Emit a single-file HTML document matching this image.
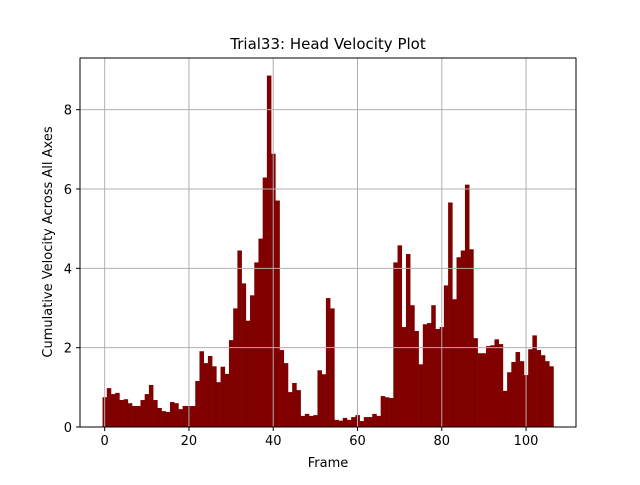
<!DOCTYPE html>
<html><head><meta charset="utf-8"><style>
html,body{margin:0;padding:0;background:#fff;}
svg text{font-family:"DejaVu Sans","Liberation Sans",sans-serif;fill:#000;}
</style></head><body>
<svg id="chart" width="640" height="480" viewBox="0 0 640 480">
<rect width="640" height="480" fill="#fff"/>
<g id="bars"></g>
<g id="grid"></g>
<rect x="80" y="58" width="496" height="369" fill="none" stroke="#000" stroke-width="1"/>
<g id="xticks"></g>
<g id="yticks"></g>
<text x="328" y="49" font-size="15" text-anchor="middle">Trial33: Head Velocity Plot</text>
<text x="328" y="467" font-size="13" text-anchor="middle">Frame</text>
<text transform="translate(52,242) rotate(-90)" font-size="13" text-anchor="middle">Cumulative Velocity Across All Axes</text>
</svg>
<script>
const values = [0.75,0.98,0.83,0.86,0.68,0.70,0.60,0.53,0.53,0.68,0.83,1.06,0.68,0.48,0.40,0.38,0.63,0.60,0.45,0.53,
0.53,0.53,1.16,1.91,1.61,1.79,1.53,1.13,1.52,1.34,2.19,2.99,4.45,3.62,2.68,3.32,4.15,4.75,6.29,8.86,
6.89,5.71,1.94,1.61,0.88,1.11,0.93,0.28,0.33,0.28,0.30,1.43,1.33,3.25,2.99,0.18,0.16,0.23,0.18,0.25,
0.30,0.15,0.25,0.25,0.33,0.28,0.78,0.75,0.73,4.15,4.58,2.52,4.36,3.07,2.42,1.58,2.59,2.62,3.07,2.47,
2.52,3.57,5.66,3.22,4.28,4.45,6.11,4.48,2.24,1.86,1.86,2.04,2.06,2.21,2.09,0.91,1.38,1.64,1.89,1.66,
1.31,1.96,2.31,1.94,1.81,1.66,1.53];
const xTicks = [0,20,40,60,80,100];
const yTicks = [0,2,4,6,8];
const NS='http://www.w3.org/2000/svg';
const L=80,R=576,T=58,B=427;
const n=values.length;
const xmin=-0.5-0.05*n, xmax=n-0.5+0.05*n;
const ymax=Math.max(...values)*1.05;
const xs=v=>L+(v-xmin)/(xmax-xmin)*(R-L);
const ys=v=>B-v/ymax*(B-T);
const bars=document.getElementById('bars');
values.forEach((v,i)=>{
  const r=document.createElementNS(NS,'rect');
  const x0=xs(i-0.5),x1=xs(i+0.5);
  r.setAttribute('x',x0);r.setAttribute('width',x1-x0+0.3);
  r.setAttribute('y',ys(v));r.setAttribute('height',B-ys(v));
  r.setAttribute('fill','#800000');
  
  
  bars.appendChild(r);
});
const grid=document.getElementById('grid'),xt=document.getElementById('xticks'),yt=document.getElementById('yticks');
function line(g,x1,y1,x2,y2,c,w,name){
  const l=document.createElementNS(NS,'line');
  l.setAttribute('x1',x1);l.setAttribute('y1',y1);l.setAttribute('x2',x2);l.setAttribute('y2',y2);
  l.setAttribute('stroke',c);l.setAttribute('stroke-width',w);
  
  
  g.appendChild(l);
}
function text(g,x,y,s,anchor,name){
  const t=document.createElementNS(NS,'text');
  t.setAttribute('x',x);t.setAttribute('y',y);t.setAttribute('font-size','13');t.setAttribute('text-anchor',anchor);
  t.textContent=s;
  
  
  g.appendChild(t);
}
xTicks.forEach(v=>{
  const x=xs(v);
  line(grid,x,T,x,B,'#b0b0b0',1,'x-gridline');
  line(xt,x,B,x,B+4,'#000',1,'x-tick');
  text(xt,x,B+18,String(v),'middle','x-tick-label');
});
yTicks.forEach(v=>{
  const y=ys(v);
  line(grid,L,y,R,y,'#b0b0b0',1,'y-gridline');
  line(yt,L-4,y,L,y,'#000',1,'y-tick');
  text(yt,L-8,y+5,String(v),'end','y-tick-label');
});
</script>
</body></html>
